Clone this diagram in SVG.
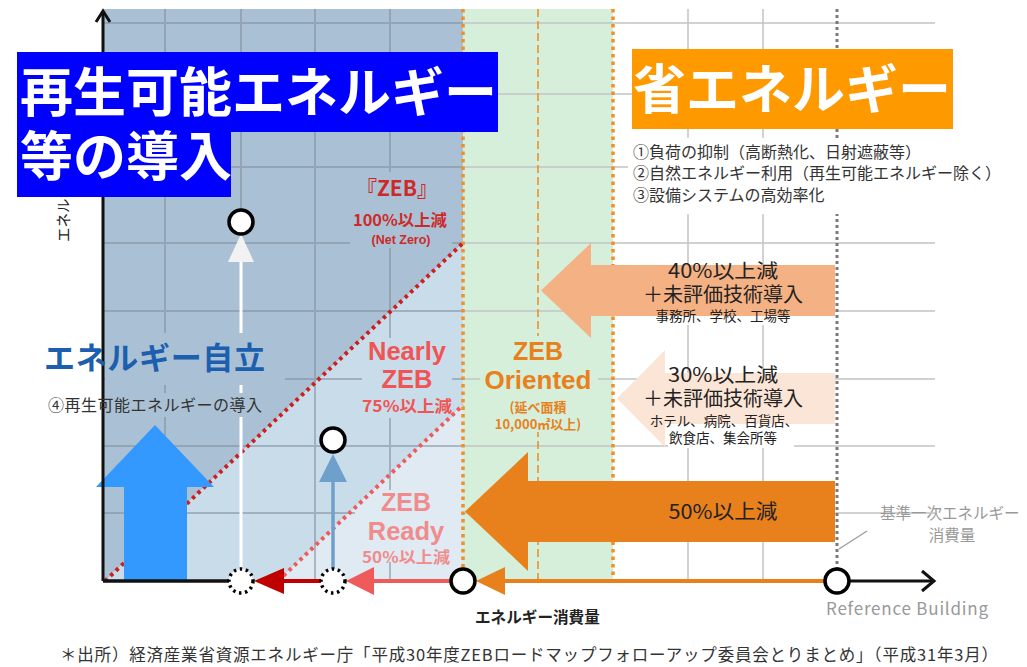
<svg xmlns="http://www.w3.org/2000/svg" width="1027" height="667" viewBox="0 0 1027 667">
<defs>
<style>
.jp{font-family:"Noto Sans CJK JP","Noto Sans",sans-serif;}
.lat{font-family:"Liberation Sans","Noto Sans","Noto Sans CJK JP",sans-serif;}
.gridB{stroke:#7f8d9b;stroke-opacity:.55;stroke-width:2;fill:none}
.gridW{stroke:#c4c4c4;stroke-width:1.5;fill:none}
.odot{stroke:#f0902a;stroke-width:3.5;stroke-dasharray:3.5 4;fill:none}
.node{fill:#fff;stroke:#000;stroke-width:3.5}
.dnode{fill:#fff;stroke:#000;stroke-width:3.5;stroke-dasharray:2.5 3.6}
.red1{fill:#cc2a2a;font-weight:700}
.sal{fill:#f05454;font-weight:700}
.rdy{fill:#f08c8c;font-weight:700}
.org{fill:#e8801c;font-weight:700}
.dark{fill:#222}
.head{fill:#fff;font-weight:700;font-size:53px}
.mid{text-anchor:middle}
</style>
</defs>
<rect width="1027" height="667" fill="#fff"/>

<g id="regions">
<polygon points="103,9 463,9 463,243 105,581 103,581" fill="#aac1d5"/>
<polygon points="105,581 463,243 463,405 278,581" fill="#c9dcea"/>
<polygon points="278,581 463,405 463,581" fill="#dfeaf3"/>
<rect x="463" y="9" width="150" height="572" fill="#d5efdb"/>
</g>

<g id="grid">
<path class="gridB" d="M103 23H463M103 94H463M103 167H463M103 243H463M103 311H463M103 379H463M103 446H463M103 513H463M165 9V581M241 9V581M315 9V581M390 9V581"/>
<path class="gridW" d="M463 23H935M463 94H935M463 167H935M463 243H935M463 311H935M463 379H935M463 446H935M463 513H935M688 9V581M763 9V581"/>
<path d="M538 9V581" stroke="#f0902a" stroke-width="1.6" stroke-dasharray="8 4" fill="none"/>
<path class="odot" d="M463 9V581M613 9V581"/>
<path d="M837 9V581" stroke="#7a7a7a" stroke-width="3" stroke-dasharray="3 3" fill="none"/>
</g>

<g id="label-backs">
<rect x="350" y="172" width="102" height="76" fill="#aac1d5"/>
<rect x="105" y="333" width="180" height="52" fill="#aac1d5"/>
<rect x="105" y="393" width="160" height="24" fill="#aac1d5"/>
<rect x="362" y="338" width="90" height="80" fill="#c9dcea"/>
<polygon points="355,507 373,490 461,490 461,562 355,562" fill="#dfeaf3"/>
<rect x="480" y="336" width="118" height="96" fill="#d5efdb"/>
<rect x="628" y="138" width="312" height="76" fill="#fff"/>
<rect x="650" y="309" width="146" height="16" fill="#fff"/>
<rect x="668" y="424" width="126" height="24" fill="#fff"/>
</g>

<g id="boundaries">
<line x1="105" y1="581" x2="463" y2="243" stroke="#cc1f1f" stroke-width="4" stroke-dasharray="3.5 4"/>
<line x1="278" y1="581" x2="463" y2="405" stroke="#f05a5a" stroke-width="4" stroke-dasharray="3.5 4"/>
</g>

<g id="renewable-arrow">
<polygon points="124,581 124,487 96,487 155,425 214,487 187,487 187,581" fill="#3399ff"/>
</g>
<g id="arrow-40">
<polygon points="541,290.5 591,243 591,265 835,265 835,316 591,316 591,338" fill="#f4b183"/>
</g>
<g id="arrow-30">
<polygon points="617,398.5 665,350 665,373 835,373 835,424 665,424 665,447" fill="#fbe5d6"/>
</g>
<g id="arrow-50">
<polygon points="465,511.5 528,452 528,481 835,481 835,542 528,542 528,571" fill="#e8801c"/>
</g>

<g id="connectors">
<path d="M103 581V12" stroke="#111" stroke-width="3" fill="none"/>
<polyline points="96,22 103,11 110,22" stroke="#111" stroke-width="3" fill="none"/>
<path d="M103 581H229" stroke="#111" stroke-width="3.5" fill="none"/>
<path d="M321 581H282" stroke="#c00000" stroke-width="4" fill="none"/>
<polygon points="254,581 284,568 284,594" fill="#c00000"/>
<path d="M451 581H372" stroke="#f05a5a" stroke-width="4" fill="none"/>
<polygon points="346,581 374,567 374,595" fill="#f05a5a"/>
<path d="M825 581H503" stroke="#e8801c" stroke-width="4" fill="none"/>
<polygon points="476,581 505,567 505,595" fill="#e8801c"/>
<path d="M849 581H933" stroke="#111" stroke-width="3" fill="none"/>
<polyline points="922,571 934,581 922,591" stroke="#111" stroke-width="3" fill="none"/>
<path d="M333 569V480" stroke="#6fa0cc" stroke-width="3.5" fill="none"/>
<polygon points="333,454 319,482 347,482" fill="#6fa0cc"/>
<path d="M241 569V417M241 393V385M241 333V260" stroke="#fff" stroke-width="3" fill="none"/>
<polygon points="241,234 228,262 254,262" fill="#f2f2f2"/>
<line x1="839" y1="549" x2="867" y2="531" stroke="#999" stroke-width="1.2"/>
</g>

<g id="node-zeb-top"><circle class="node" cx="241" cy="222" r="12"/></g>
<g id="node-nearly-top"><circle class="node" cx="333" cy="440" r="12"/></g>
<g id="node-zeb-bottom"><circle class="dnode" cx="241" cy="581" r="12"/></g>
<g id="node-nearly-bottom"><circle class="dnode" cx="333" cy="581" r="12"/></g>
<g id="node-ready"><circle class="node" cx="463" cy="581" r="12"/></g>
<g id="node-reference"><circle class="node" cx="837" cy="581" r="12"/></g>

<g id="y-label">
<text class="jp" transform="translate(69,242) rotate(-90)" font-size="14.5" fill="#222">エネルギー消費量</text>
</g>

<g id="label-zeb">
<text class="jp red1 mid" x="397" y="196" font-size="21">『ZEB』</text>
<text class="jp red1 mid" x="400" y="226" font-size="16" textLength="94" lengthAdjust="spacingAndGlyphs">100%以上減</text>
<text class="lat red1 mid" x="401" y="244" font-size="12.5">(Net Zero)</text>
</g>

<g id="label-nearly">
<text class="lat sal mid" x="407" y="360" font-size="25.5">Nearly</text>
<text class="lat sal mid" x="407" y="388" font-size="25.5">ZEB</text>
<text class="jp sal mid" x="407" y="412" font-size="16" textLength="90" lengthAdjust="spacingAndGlyphs">75%以上減</text>
</g>

<g id="label-ready">
<text class="lat rdy mid" x="406" y="511" font-size="25">ZEB</text>
<text class="lat rdy mid" x="406" y="540" font-size="25.5">Ready</text>
<text class="jp rdy mid" x="406" y="563" font-size="15.5" textLength="88" lengthAdjust="spacingAndGlyphs">50%以上減</text>
</g>

<g id="label-oriented">
<text class="lat org mid" x="538" y="360" font-size="25">ZEB</text>
<text class="lat org mid" x="538" y="389" font-size="26">Oriented</text>
<text class="jp org mid" x="538" y="412" font-size="13" font-weight="700">(延べ面積</text>
<text class="jp org mid" x="538" y="429" font-size="13" font-weight="700">10,000㎡以上)</text>
</g>

<g id="label-self">
<text class="jp" x="44" y="369" font-size="31" font-weight="700" fill="#1b5fae" textLength="221">エネルギー自立</text>
<text class="jp" x="48" y="411" font-size="16" fill="#333" textLength="214">④再生可能エネルギーの導入</text>
</g>

<g id="label-list">
<text class="jp" x="633" y="158" font-size="16" fill="#333">①負荷の抑制（高断熱化、日射遮蔽等）</text>
<text class="jp" x="633" y="179" font-size="16" fill="#333">②自然エネルギー利用（再生可能エネルギー除く）</text>
<text class="jp" x="633" y="201" font-size="16" fill="#333">③設備システムの高効率化</text>
</g>

<g id="label-40">
<text class="jp dark mid" x="723" y="278" font-size="19.5" textLength="110" lengthAdjust="spacingAndGlyphs">40%以上減</text>
<text class="jp dark mid" x="723" y="302" font-size="20">＋未評価技術導入</text>
<text class="jp dark mid" x="723" y="321" font-size="13.5" fill="#333">事務所、学校、工場等</text>
</g>
<g id="label-30">
<text class="jp dark mid" x="723" y="382" font-size="19.5" textLength="110" lengthAdjust="spacingAndGlyphs">30%以上減</text>
<text class="jp dark mid" x="723" y="406" font-size="20">＋未評価技術導入</text>
<text class="jp dark mid" x="724" y="426" font-size="13.5">ホテル、病院、百貨店、</text>
<text class="jp dark mid" x="723" y="443" font-size="13.5">飲食店、集会所等</text>
</g>
<g id="label-50">
<text class="jp dark mid" x="723" y="519" font-size="20" textLength="109" lengthAdjust="spacingAndGlyphs">50%以上減</text>
</g>

<g id="label-reference">
<text class="jp" x="880" y="519" font-size="15.5" fill="#999">基準一次エネルギー</text>
<text class="jp mid" x="952" y="541" font-size="15.5" fill="#999">消費量</text>
<text class="jp" x="826" y="615" font-size="17" fill="#999" textLength="162">Reference Building</text>
</g>

<g id="x-label">
<text class="jp" x="475" y="623" font-size="15.6" font-weight="700" fill="#222">エネルギー消費量</text>
</g>

<g id="heading-renewable">
<path d="M17 52H498V132H231V197H17Z" fill="#0000ff"/>
<text class="jp head" x="20" y="112">再生可能エネルギー</text>
<text class="jp head" x="20" y="176">等の導入</text>
</g>

<g id="heading-saving">
<rect x="632" y="49" width="321" height="80" fill="#ff9900"/>
<text class="jp head" x="633" y="109">省エネルギー</text>
</g>

<g id="source">
<text class="jp" x="60" y="661" font-size="16.5" fill="#333" textLength="938">＊出所）経済産業省資源エネルギー庁「平成30年度ZEBロードマップフォローアップ委員会とりまとめ」（平成31年3月）</text>
</g>
</svg>
